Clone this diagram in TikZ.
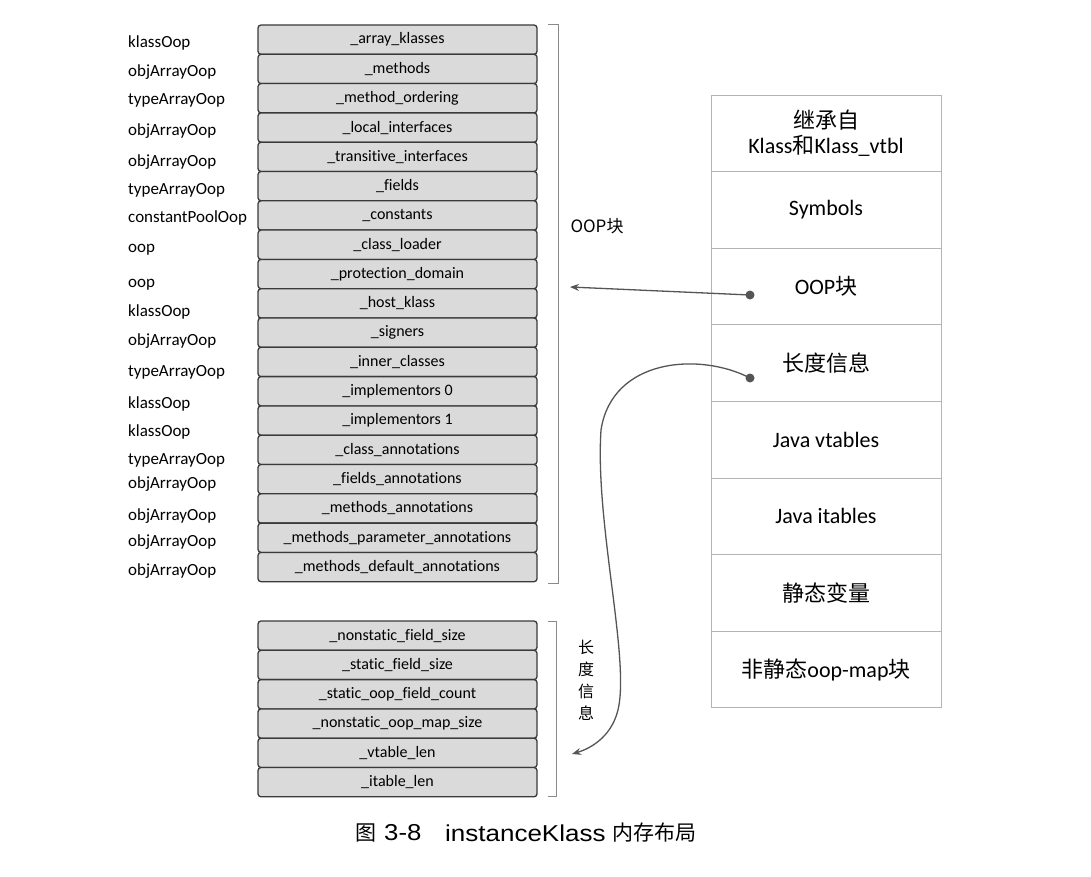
\documentclass[tikz,border=0pt]{standalone}
\usepackage{graphicx}
\usepackage{fontspec}
\setmainfont{Carlito}[Ligatures=NoCommon]
\newfontfamily\cjk{Noto Sans CJK SC}
\newfontfamily\capfont{Liberation Sans}
\usetikzlibrary{arrows.meta}
\definecolor{boxfill}{HTML}{DADADA}
\definecolor{boxline}{HTML}{3A3A3A}
\definecolor{arrowc}{HTML}{555555}
\definecolor{lightline}{HTML}{B4B4B4}
\definecolor{braceline}{HTML}{8A8A8A}
\begin{document}
\begin{tikzpicture}[x=1pt,y=-1pt,
  field/.style={draw=boxline, line width=1.3pt, fill=boxfill, rounded corners=3pt,
    minimum width=279pt, minimum height=29.3pt, inner sep=0pt,
    font=\fontsize{16}{18}\selectfont},
  typelbl/.style={anchor=west, inner sep=0pt, font=\fontsize{17}{19}\selectfont},
  block/.style={draw=lightline, line width=0.8pt, minimum width=230pt,
    minimum height=76.6pt, inner sep=0pt, align=center,
    font=\fontsize{22}{25}\selectfont},
  brace/.style={draw=braceline, line width=1pt},
  link/.style={draw=arrowc, line width=1.3pt, -{Stealth[length=9pt,width=7pt]}},
  dotstyle/.style={circle, fill=arrowc, minimum size=9pt, inner sep=0pt},
  captxt/.style={inner sep=0pt, anchor=west}]
\useasboundingbox[fill=white] (0,0) rectangle (1091,877);

% top field stack
\foreach \t [count=\i from 0] in {\_array\_klasses, \_methods, \_method\_ordering,
  \_local\_interfaces, \_transitive\_interfaces, \_fields, \_constants,
  \_class\_loader, \_protection\_domain, \_host\_klass, \_signers,
  \_inner\_classes, \_implementors 0, \_implementors 1, \_class\_annotations,
  \_fields\_annotations, \_methods\_annotations,
  \_methods\_parameter\_annotations, \_methods\_default\_annotations}
  \node[field] (f\i) at (397.5,{25+29.3*(\i+0.5)}) {\t};

% bottom field stack
\foreach \t [count=\i from 0] in {\_nonstatic\_field\_size, \_static\_field\_size,
  \_static\_oop\_field\_count, \_nonstatic\_oop\_map\_size, \_vtable\_len, \_itable\_len}
  \node[field] (g\i) at (397.5,{621+29.3*(\i+0.5)}) {\t};

% type labels
\foreach \t/\y [count=\i] in {klassOop/43, objArrayOop/72, typeArrayOop/100,
  objArrayOop/131, objArrayOop/162, typeArrayOop/190, constantPoolOop/218,
  oop/250, oop/285, klassOop/312, objArrayOop/341, typeArrayOop/372,
  klassOop/404, klassOop/432, typeArrayOop/460, objArrayOop/484,
  objArrayOop/516, objArrayOop/542, objArrayOop/571}
  \node[typelbl] (t\i) at (128,\y) {\t};

% brackets
\draw[brace] (548,25) -- (558,25) -- (558,583) -- (548,583);
\draw[brace] (548,621) -- (556,621) -- (556,796) -- (548,796);
\node[font=\cjk\fontsize{17}{20}\selectfont] (ooplbl) at (597,226) {OOP块};
\node[font=\cjk\fontsize{16}{22}\selectfont, align=center, inner sep=0pt] (lenlbl) at (586,680) {长\\度\\信\\息};

% right block stack
\node[block] (r0) at (826,{95+76.6*0.5}) {{\cjk 继承自}\\Klass{\cjk 和}Klass\_vtbl};
\node[block] (r1) at (826,{95+76.6*1.5}) {Symbols};
\node[block] (r2) at (826,{95+76.6*2.5}) {OOP{\cjk 块}};
\node[block] (r3) at (826,{95+76.6*3.5}) {\cjk 长度信息};
\node[block] (r4) at (826,{95+76.6*4.5}) {Java vtables};
\node[block] (r5) at (826,{95+76.6*5.5}) {Java itables};
\node[block] (r6) at (826,{95+76.6*6.5}) {\cjk 静态变量};
\node[block] (r7) at (826,{95+76.6*7.5}) {{\cjk 非静态}oop-map{\cjk 块}};

% connectors
\node[dotstyle] (d1) at (750,295) {};
\node[dotstyle] (d2) at (750,378) {};
\coordinate (a1) at (570,287);
\coordinate (a2) at (572,754);
\draw[link] (d1.center) -- (a1);
\draw[link] (d2.center) .. controls (700,352) and (612,358) .. (601,430)
  .. controls (595,520) and (628,650) .. (619,705)
  .. controls (614,735) and (592,748) .. (a2);

% caption
\node[captxt, font=\cjk\fontsize{21}{24}\selectfont] (capa) at (355,833) {图};
\node[captxt, font=\capfont\fontsize{23}{25}\selectfont] (capb) at (384,833) {\scalebox{1.12}[1]{3-8}};
\node[captxt, font=\capfont\fontsize{23}{25}\selectfont] (capc) at (445,833) {\scalebox{1.13}[1]{instanceKlass}};
\node[captxt, font=\cjk\fontsize{21}{24}\selectfont] (capd) at (612,833) {内存布局};
\end{tikzpicture}
\end{document}
